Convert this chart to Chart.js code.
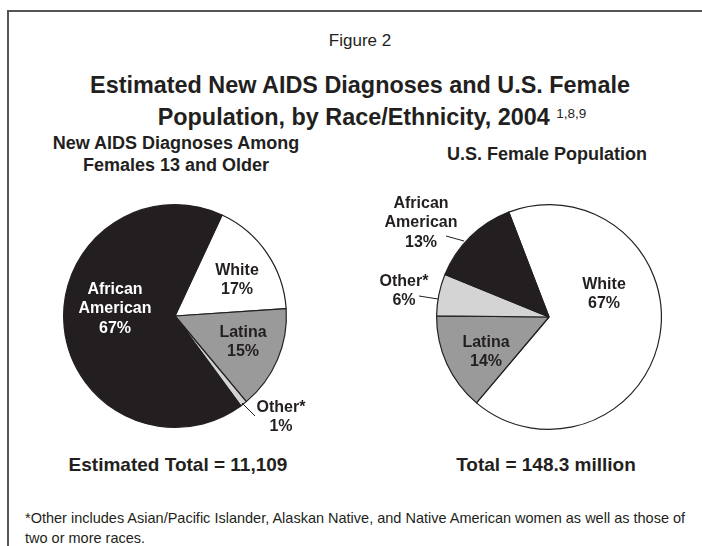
<!DOCTYPE html>
<html>
<head>
<meta charset="utf-8">
<script src="https://cdn.jsdelivr.net/npm/chart.js@4.4.1/dist/chart.umd.min.js"></script>
<style>
  body { margin: 0; background: #fff; font-family: "Liberation Sans", Arial, sans-serif; color: #231f20; }
  #page { position: relative; width: 702px; height: 546px; overflow: hidden; }
  #frame { position: absolute; left: 7px; top: 10px; width: 720px; height: 560px; border: 2px solid #555; }
  .t { position: absolute; white-space: nowrap; text-align: center; }
  canvas { position: absolute; }
</style>
</head>
<body>
<div id="page">
  <div id="frame"></div>
  <div class="t" style="left:0;width:720px;top:31px;font-size:17px;">Figure 2</div>
  <div class="t" style="left:0;width:720px;top:72px;font-size:23.4px;font-weight:bold;">Estimated New AIDS Diagnoses and U.S. Female</div>
  <div class="t" style="left:0;width:744px;top:104px;font-size:23.4px;font-weight:bold;">Population, by Race/Ethnicity, 2004 <span style="font-size:13.5px;font-weight:normal;vertical-align:7px;">1,8,9</span></div>
  <div class="t" style="left:26px;width:300px;top:132px;font-size:18px;font-weight:bold;line-height:22px;">New AIDS Diagnoses Among<br>Females 13 and Older</div>
  <div class="t" style="left:397px;width:300px;top:144px;font-size:18px;font-weight:bold;">U.S. Female Population</div>
  <div class="t" style="left:28px;width:300px;top:454px;font-size:19px;font-weight:bold;">Estimated Total = 11,109</div>
  <div class="t" style="left:396px;width:300px;top:454px;font-size:19px;font-weight:bold;">Total = 148.3 million</div>
  <div class="t" style="left:25px;top:508px;font-size:14.5px;text-align:left;line-height:20px;">*Other includes Asian/Pacific Islander, Alaskan Native, and Native American women as well as those of<br>two or more races.</div>
  <canvas id="aids" width="290" height="270" style="left:30px;top:186px;width:290px;height:270px;"></canvas>
  <canvas id="pop" width="320" height="270" style="left:370px;top:186px;width:320px;height:270px;"></canvas>
</div>
<script>
// data
var aidsLabels = ['White', 'Latina', 'Other*', 'African American'];
var aidsValues = [17, 15, 1, 67];
var aidsColors = ['#ffffff', '#9a9a9a', '#d4d4d4', '#231f20'];

var popLabels = ['White', 'Latina', 'Other*', 'African American'];
var popValues = [67, 14, 6, 13];
var popColors = ['#ffffff', '#9a9a9a', '#d4d4d4', '#231f20'];

// label placement, offsets from pie centre (text lines + optional leader line)
var aidsLabelPos = [
    { dx: 62, dy: -36, color: '#231f20' },
    { dx: 68, dy: 26, color: '#231f20' },
    { dx: 106, dy: 101, color: '#231f20', line: [67, 87, 80, 100] },
    { dx: -60, dy: -7, color: '#ffffff' }
];
var popLabelPos = [
    { dx: 55, dy: -23, color: '#231f20' },
    { dx: -63, dy: 35, color: '#231f20' },
    { dx: -145, dy: -26, color: '#231f20', line: [-130, -21, -111, -18] },
    { dx: -128, dy: -94, color: '#231f20', line: [-103, -81, -85, -76] }
];

var sliceLabels = {
    id: 'sliceLabels',
    afterDraw: function (chart, args, opts) {
        var ctx = chart.ctx;
        var arc = chart.getDatasetMeta(0).data[0];
        var cx = arc.x, cy = arc.y;
        var ds = chart.data.datasets[0];
        var total = ds.data.reduce(function (a, b) { return a + b; }, 0);
        ctx.save();
        ctx.font = 'bold 16px "Liberation Sans", Arial, sans-serif';
        ctx.textAlign = 'center';
        ctx.textBaseline = 'middle';
        opts.pos.forEach(function (p, i) {
            var lines = chart.data.labels[i] === 'African American' ? ['African', 'American'] : [chart.data.labels[i]];
            lines.push(Math.round(ds.data[i] / total * 100) + '%');
            if (p.line) {
                ctx.strokeStyle = '#231f20';
                ctx.lineWidth = 1;
                ctx.beginPath();
                ctx.moveTo(cx + p.line[0], cy + p.line[1]);
                ctx.lineTo(cx + p.line[2], cy + p.line[3]);
                ctx.stroke();
            }
            ctx.fillStyle = p.color;
            var lh = 19.5;
            var y0 = cy + p.dy - (lines.length - 1) * lh / 2;
            lines.forEach(function (s, k) {
                ctx.fillText(s, cx + p.dx, y0 + k * lh);
            });
        });
        ctx.restore();
    }
};

function makePie(id, labels, values, colors, rot, pad, pos) {
    var ctx = document.getElementById(id).getContext('2d');
    return new Chart(ctx, {
        type: 'pie',
        data: {
            labels: labels,
            datasets: [{
                data: values,
                backgroundColor: colors,
                borderColor: '#231f20',
                borderWidth: 1.2
            }]
        },
        options: {
            responsive: false,
            animation: false,
            rotation: rot,
            layout: { padding: pad },
            plugins: {
                legend: { display: false },
                tooltip: { enabled: false },
                sliceLabels: { pos: pos }
            }
        },
        plugins: [sliceLabels]
    });
}

makePie('aids', aidsLabels, aidsValues, aidsColors, 25, { left: 33, right: 33, top: 18, bottom: 28 }, aidsLabelPos);
makePie('pop', popLabels, popValues, popColors, -21, { left: 66, right: 28, top: 18, bottom: 26 }, popLabelPos);
</script>
</body>
</html>
